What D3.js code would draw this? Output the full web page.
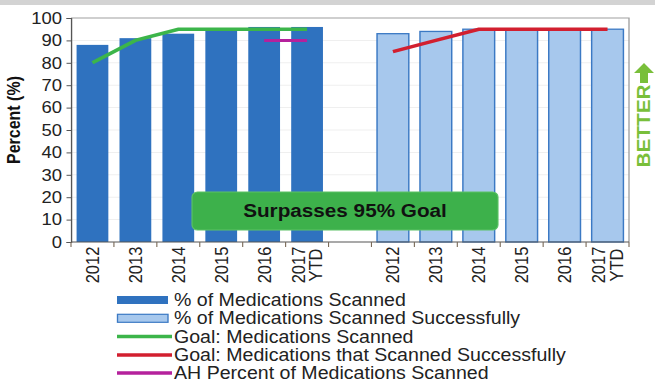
<!DOCTYPE html>
<html><head><meta charset="utf-8">
<script src="https://cdn.jsdelivr.net/npm/d3@7"></script>
<style>body{margin:0;background:#fff;}svg{display:block;font-family:"Liberation Sans",Arial,sans-serif;}</style>
</head><body>
<script>
const years = ["2012","2013","2014","2015","2016","2017 YTD"];
const scanned = [88, 91, 93, 95, 96, 96];
const scannedSuccess = [93, 94, 95, 95, 95, 95];
const goalScanned = [80, 90, 95, 95, 95, 95];
const goalSuccess = [85, 90, 95, 95, 95, 95];
const ahScanned = [null, null, null, null, 90, 90];
const yTicks = [0,10,20,30,40,50,60,70,80,90,100];
const legendLabels = ["% of Medications Scanned","% of Medications Scanned Successfully","Goal: Medications Scanned","Goal: Medications that Scanned Successfully","AH Percent of Medications Scanned"];
const boxText = "Surpasses 95% Goal";
const yTitle = "Percent (%)";
const betterText = "BETTER";

const W = 655, H = 384, sx = 1.12;
const X = v => v / sx;
const c = { dark:"#2f72bf", light:"#a7c8ed", lightStroke:"#3b79c4", green:"#3cb54a", red:"#d21f2f", magenta:"#b5219c", better:"#79bf3a" };

const svg = d3.select("body").append("svg").attr("width", W).attr("height", H);
svg.append("rect").attr("x",0).attr("y",0).attr("width",W).attr("height",5).attr("fill","#d3d3d3");
const g = svg.append("g").attr("transform", `scale(${sx},1)`);

const keys = years.map(y => "L" + y).concat(["gap"], years.map(y => "R" + y));
const x = d3.scaleBand().domain(keys).range([X(71), X(629)]).paddingInner(0.26).paddingOuter(0.13);
const y = d3.scaleLinear().domain([0, 100]).range([242, 18]);

// gridlines
g.append("g").selectAll("line").data(yTicks.filter(t => t > 0 && t < 100)).join("line")
  .attr("x1", X(71)).attr("x2", X(629)).attr("y1", d => y(d)).attr("y2", d => y(d))
  .attr("stroke", "#efefef").attr("stroke-width", 1);
// frame top/right
g.append("path").attr("d", `M${X(71)},${y(100)}H${X(629)}V${y(0)}`).attr("fill","none").attr("stroke","#a0a0a0").attr("stroke-width",1.2);

// bars
g.append("g").selectAll("rect").data(years).join("rect")
  .attr("x", (d) => x("L" + d)).attr("width", x.bandwidth())
  .attr("y", (d, i) => y(scanned[i])).attr("height", (d, i) => y(0) - y(scanned[i]))
  .attr("fill", c.dark);
g.append("g").selectAll("rect").data(years).join("rect")
  .attr("x", (d) => x("R" + d)).attr("width", x.bandwidth())
  .attr("y", (d, i) => y(scannedSuccess[i])).attr("height", (d, i) => y(0) - y(scannedSuccess[i]))
  .attr("fill", c.light).attr("stroke", c.lightStroke).attr("stroke-width", 1.3);

// lines
const cx = k => x(k) + x.bandwidth() / 2;
const line = d3.line().defined(d => d[1] != null).x(d => d[0]).y(d => y(d[1]));
g.append("path").datum(years.map((d, i) => [cx("L" + d), goalScanned[i]])).attr("d", line)
  .attr("fill","none").attr("stroke", c.green).attr("stroke-width", 3.5);
g.append("path").datum(years.map((d, i) => [cx("L" + d), ahScanned[i]])).attr("d", line)
  .attr("fill","none").attr("stroke", c.magenta).attr("stroke-width", 3);
g.append("path").datum(years.map((d, i) => [cx("R" + d), goalSuccess[i]])).attr("d", line)
  .attr("fill","none").attr("stroke", c.red).attr("stroke-width", 3.5);

// y axis
const yAxis = g.append("g").attr("transform", `translate(${X(71)},0)`)
  .call(d3.axisLeft(y).tickValues(yTicks).tickSize(4).tickPadding(4));
yAxis.select(".domain").attr("stroke","#555").attr("stroke-width",1.2);
yAxis.selectAll(".tick line").attr("stroke","#555");
yAxis.selectAll("text").attr("font-size", 16.5).attr("fill","#222").attr("font-family","Liberation Sans, Arial, sans-serif");

// x axis
const xa = g.append("g");
xa.append("line").attr("x1", X(71)).attr("x2", X(629)).attr("y1", y(0)).attr("y2", y(0)).attr("stroke","#555").attr("stroke-width",1.2);
const bounds = keys.map(k => x(k) - x.step() * x.paddingInner() / 2).concat([X(629)]);
xa.selectAll(".xt").data(bounds).join("line").attr("class","xt")
  .attr("x1", d => d).attr("x2", d => d).attr("y1", y(0)).attr("y2", y(0) + 5).attr("stroke","#7a6a58").attr("stroke-width",1);
keys.filter(k => k !== "gap").forEach(k => {
  const lbl = k.slice(1);
  const parts = lbl.split(" ");
  const t = xa.append("text").attr("transform", `translate(${cx(k)},265) rotate(-90)`)
    .attr("text-anchor","middle").attr("font-size", 16.5).attr("fill","#222");
  if (parts.length === 1) {
    t.append("tspan").attr("x",0).attr("dy","0.35em").text(lbl);
  } else {
    t.append("tspan").attr("x",0).attr("dy", "-0.13em").text(parts[0]);
    t.append("tspan").attr("x",0).attr("dy", "0.95em").text(parts[1]);
  }
});

// y title
g.append("text").attr("transform", `translate(${X(20)},120) rotate(-90)`).attr("text-anchor","middle")
  .attr("font-size", 16).attr("font-weight","bold").attr("fill","#111").text(yTitle);

// green box
g.append("rect").attr("x", X(192)).attr("y", 192).attr("width", X(498) - X(192)).attr("height", 38)
  .attr("rx", 5).attr("ry", 5).attr("fill", "#3db14b").attr("stroke","#5cc266").attr("stroke-width",1);
g.append("text").attr("x", X(345)).attr("y", 211).attr("dy","0.35em").attr("text-anchor","middle")
  .attr("font-size", 18.5).attr("font-weight","bold").attr("fill","#111").text(boxText);

// BETTER arrow + text
const ax = X(644);
g.append("path").attr("d", `M${ax},63 L${ax + X(10)},73 L${ax + X(4)},73 L${ax + X(4)},83 L${ax - X(4)},83 L${ax - X(4)},73 L${ax - X(10)},73 Z`)
  .attr("fill", c.better);
g.append("text").attr("transform", `translate(${ax},126) rotate(-90)`).attr("text-anchor","middle").attr("dy","0.36em")
  .attr("font-size", 16).attr("font-weight","bold").attr("fill", c.better)
  .attr("textLength", 83).attr("lengthAdjust","spacingAndGlyphs").text(betterText);

// legend
const lg = g.append("g");
const rows = [300, 318.3, 336.6, 354.9, 373];
legendLabels.forEach((lab, i) => {
  const ry = rows[i];
  if (i === 0) lg.append("rect").attr("x", X(117)).attr("y", ry - 4).attr("width", X(168) - X(117)).attr("height", 8).attr("fill", c.dark);
  else if (i === 1) lg.append("rect").attr("x", X(117.5)).attr("y", ry - 4).attr("width", X(168) - X(117.5)).attr("height", 8).attr("fill", c.light).attr("stroke", c.lightStroke).attr("stroke-width", 1.2);
  else lg.append("line").attr("x1", X(117)).attr("x2", X(172)).attr("y1", ry).attr("y2", ry)
    .attr("stroke", [c.green, c.red, c.magenta][i - 2]).attr("stroke-width", 3.5);
  lg.append("text").attr("x", X(174)).attr("y", ry).attr("dy","0.35em").attr("font-size", 17.5).attr("fill","#222").text(lab);
});
</script>
</body></html>
